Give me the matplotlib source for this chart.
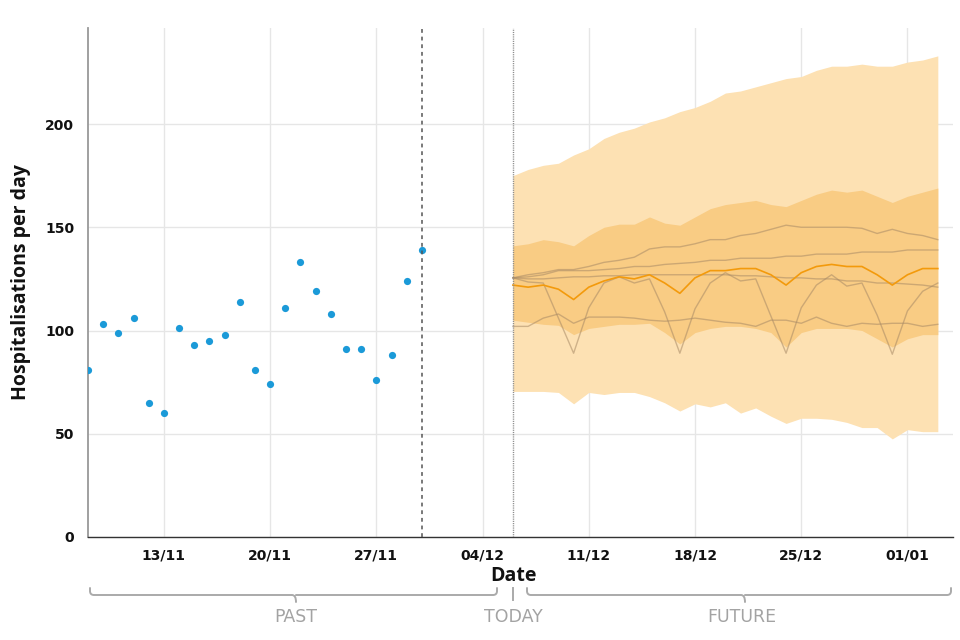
import matplotlib
matplotlib.use("Agg")
import matplotlib.pyplot as plt
from matplotlib.path import Path
from matplotlib.patches import PathPatch
import pandas as pd

# ---------------- data ----------------
past_start = "2021-11-08"
past_values = [81, 103, 99, 106, 65, 60, 101, 93, 95, 98, 114, 81, 74, 111,
               133, 119, 108, 91, 91, 76, 88, 124, 139]
last_obs = "2021-11-30"
today = "2021-12-06"
forecast_start = "2021-12-06"

outer_upper = [175, 178, 180, 181, 185, 188, 193, 196, 198, 201, 203, 206, 208, 211, 215,
               216, 218, 220, 222, 223, 226, 228, 228, 229, 228, 228, 230, 231, 233]
inner_upper = [141, 142, 144, 143, 141, 146, 150, 151.5, 151.5, 155, 152, 151, 155, 159, 161,
               162, 163, 161, 160, 163, 166, 168, 167, 168, 165, 162, 165, 167, 169]
inner_lower = [105, 104, 103, 102.5, 98, 101, 102, 103, 103, 103.5, 99, 93.5, 99, 101, 102,
               102, 101, 99, 92, 99, 101, 101, 101, 100, 96, 92, 96, 98, 98]
outer_lower = [70.5, 70.5, 70.5, 70, 64.5, 70, 69, 70, 70, 68, 65, 61, 64.5, 63, 65,
               60, 62.5, 58.5, 55, 57.5, 57.5, 57, 55.5, 53, 53, 47.5, 52, 51, 51]
median = [122, 121, 122, 120, 115, 121, 124, 126, 125, 127, 123, 118, 125.5, 129, 129,
          130, 130, 127, 122, 128, 131, 132, 131, 131, 127, 122, 127, 130, 130]
traj1 = [125.5, 127, 128, 129.5, 129.5, 131, 133, 134, 135.5, 139.5, 140.5, 140.5, 142, 144, 144,
         146, 147, 149, 151, 150, 150, 150, 150, 149.5, 147, 149, 147, 146, 144]
traj2 = [125.5, 126, 127, 129, 129, 129, 129.5, 130, 131, 131, 132, 132.5, 133, 134, 134,
         135, 135, 135, 136, 136, 137, 137, 137, 138, 138, 138, 139, 139, 139]
traj3 = [125.5, 125, 125, 125.5, 126, 126, 126.5, 126.5, 127, 127, 127, 127, 127, 127, 127,
         126.5, 126.5, 126, 125.5, 125.5, 125, 125, 124, 124, 123, 123, 122.5, 122, 121]
traj4 = [125.5, 123.5, 123, 106, 89, 111, 123, 126, 123, 125, 109, 89, 110.5, 123, 128,
         124, 125, 107, 89, 111, 122, 127, 121.5, 123, 107.5, 88.5, 109.5, 119, 123]
traj5 = [102, 102, 106, 108, 103.5, 106.5, 106.5, 106.5, 106, 105, 104.5, 105, 106, 105, 104,
         103.5, 102, 105, 105, 103.5, 106.5, 103.5, 102, 103.5, 103, 103.5, 103.5, 102, 103]
trajectories = [traj1, traj2, traj3, traj4, traj5]

tick_dates = ["2021-11-13", "2021-11-20", "2021-11-27", "2021-12-04",
              "2021-12-11", "2021-12-18", "2021-12-25", "2022-01-01"]
tick_labels = ["13/11", "20/11", "27/11", "04/12", "11/12", "18/12", "25/12", "01/01"]
y_ticks = [0, 50, 100, 150, 200]
x_range = ["2021-11-08", "2022-01-04"]

# ---------------- figure ----------------
W, H = 960, 640
FONT = ["Open Sans", "DejaVu Sans"]
TICKFONT = ["DejaVu Sans"]
fig = plt.figure(figsize=(9.6, 6.4), dpi=100)
ax = fig.add_axes([88 / W, 103 / H, (953 - 88) / W, (537 - 28) / H])

past_dates = pd.date_range(past_start, periods=len(past_values), freq="D")
fc_dates = pd.date_range(forecast_start, periods=len(median), freq="D")

c_outer = "#fde1b3"
c_inner = "#f9cc84"
ax.fill_between(fc_dates, outer_lower, outer_upper, color=c_outer, lw=0, zorder=2)
ax.fill_between(fc_dates, inner_lower, inner_upper, color=c_inner, lw=0, zorder=3)
for tr in trajectories:
    ax.plot(fc_dates, tr, color="#a88a66", alpha=0.55, lw=1.0, zorder=4)
ax.plot(fc_dates, median, color="#f39a0c", lw=1.2, zorder=5)

ax.plot(past_dates, past_values, "o", color="#1b9ad8", ms=5.2, mec="none", zorder=6)

ax.axvline(pd.Timestamp(last_obs), color="#555555", lw=1.1, ls=(0, (2.5, 2.5)), zorder=7)
ax.axvline(pd.Timestamp(today), color="#8a8a8a", lw=1.0, ls=(0, (0.8, 0.8)), zorder=7)

ax.set_xlim(pd.Timestamp(x_range[0]), pd.Timestamp(x_range[1]))
ax.set_ylim(0, 246.5)
ax.set_xticks([pd.Timestamp(d) for d in tick_dates])
ax.set_xticklabels(tick_labels)
ax.set_yticks(y_ticks)
ax.set_yticklabels([str(v) for v in y_ticks])

for lab in ax.get_xticklabels() + ax.get_yticklabels():
    lab.set_fontfamily(TICKFONT)
    lab.set_fontweight("bold")
    lab.set_fontsize(10)
    lab.set_color("#111111")
ax.tick_params(axis="x", length=0, pad=8)
ax.tick_params(axis="y", length=0, pad=10)

ax.grid(True, color="#e6e6e6", lw=1.0, zorder=0)
ax.set_axisbelow(True)
for s in ["top", "right"]:
    ax.spines[s].set_visible(False)
ax.spines["left"].set_color("#999999")
ax.spines["left"].set_linewidth(1.3)
ax.spines["bottom"].set_color("#333333")
ax.spines["bottom"].set_linewidth(1.0)

ax.set_ylabel("Hospitalisations per day", fontsize=14, fontweight="bold",
              family=FONT, color="#111111")
ax.yaxis.set_label_coords((31 - 88) / (953 - 88), 0.5)

# ---------------- annotations below axis (figure pixel coords) ----------------
def fx(px):
    return px / W


def fy(py):
    return 1 - py / H


fig.text(fx(513), fy(576), "Date", ha="center", va="center", fontsize=14,
         fontweight="bold", family=FONT, color="#111111")


def brace(x0, x1, xc, ytop=588, yline=595, ybump=602, r=4):
    verts = [
        (x0, ytop), (x0, yline - r), (x0, yline), (x0 + r, yline),
        (xc - r, yline), (xc, yline), (xc, ybump),
        (xc, yline), (xc + r, yline),
        (x1 - r, yline), (x1, yline), (x1, yline - r), (x1, ytop),
    ]
    codes = [Path.MOVETO, Path.LINETO, Path.CURVE3, Path.CURVE3,
             Path.LINETO, Path.CURVE3, Path.CURVE3,
             Path.MOVETO, Path.CURVE3,
             Path.LINETO, Path.CURVE3, Path.CURVE3, Path.LINETO]
    verts = [(fx(x), fy(y)) for x, y in verts]
    p = PathPatch(Path(verts, codes), transform=fig.transFigure, fill=False,
                  edgecolor="#aaaaaa", lw=1.4, capstyle="round", joinstyle="round")
    fig.add_artist(p)


brace(90, 497, 296)
brace(527, 951, 745)
fig.add_artist(plt.Line2D([fx(513), fx(513)], [fy(588), fy(600)], transform=fig.transFigure,
                          color="#aaaaaa", lw=1.4))

ann_font = dict(fontsize=12.5, color="#a3a3a3", family=["DejaVu Sans"], ha="center",
                va="center")
fig.text(fx(296), fy(617), "PAST", **ann_font)
fig.text(fx(513), fy(617), "TODAY", **ann_font)
fig.text(fx(742), fy(617), "FUTURE", **ann_font)

fig.savefig("out.png", dpi=100, facecolor="white")
